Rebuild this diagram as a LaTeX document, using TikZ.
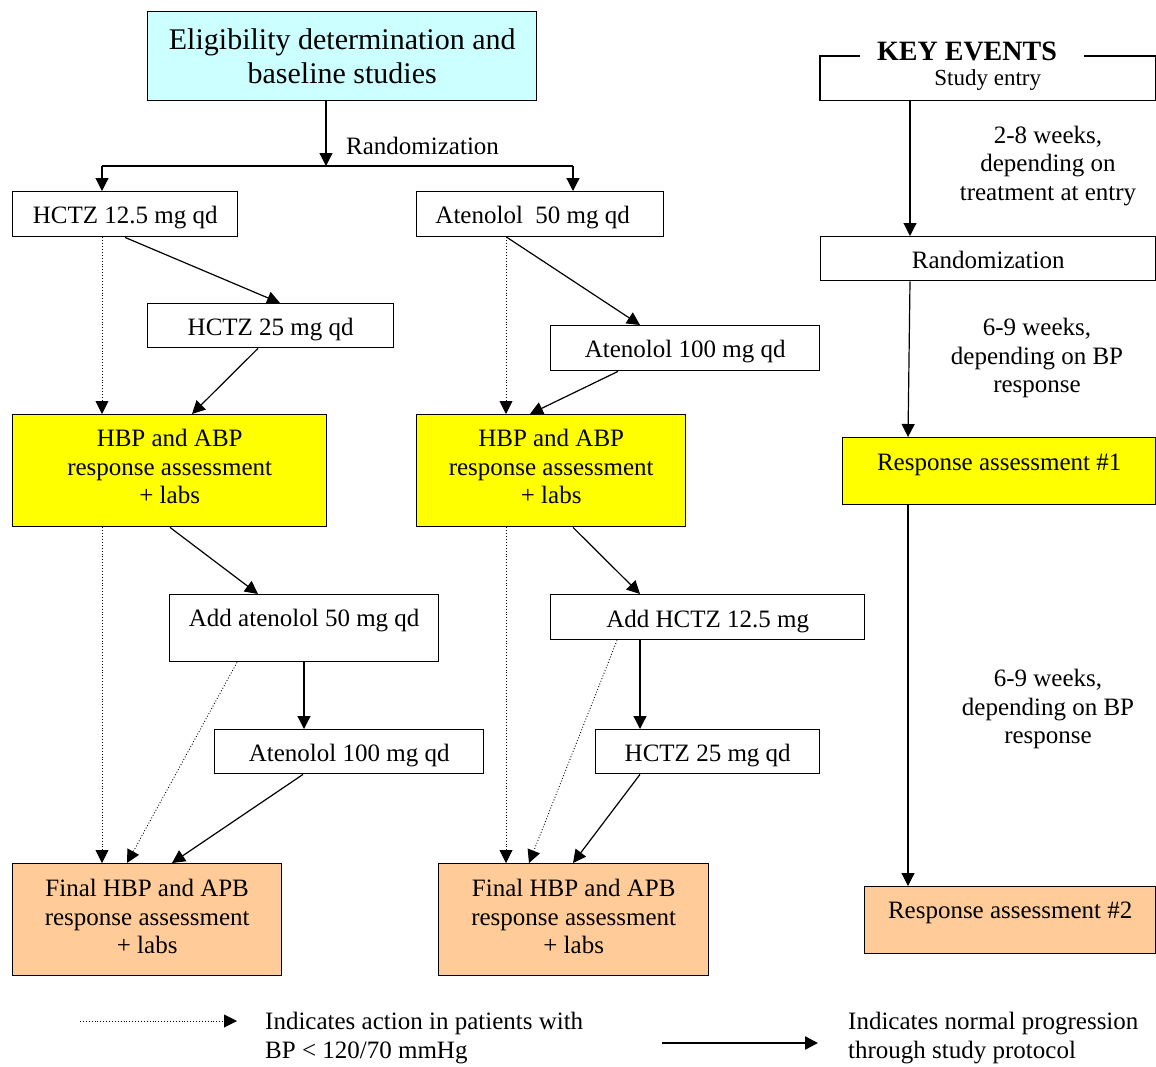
\documentclass[tikz,border=0pt]{standalone}
\usepackage{fontspec}
\setmainfont{Liberation Serif}
\usetikzlibrary{arrows.meta}
\definecolor{cyanbox}{HTML}{CCFFFF}
\definecolor{yelbox}{HTML}{FFFF00}
\definecolor{orgbox}{HTML}{FFCC99}
\newcommand{\fsmain}{\fontsize{25}{28.7}\selectfont}
\newcommand{\fstitle}{\fontsize{30}{34}\selectfont}
\begin{document}
\begin{tikzpicture}[x=1pt,y=-1pt,
  box/.style={draw, line width=1.4pt, inner sep=0pt, anchor=north west, align=center, font=\fsmain},
  plain/.style={inner sep=0pt, align=center, font=\fsmain},
  tip/.style={-{Triangle[length=13pt,width=13pt]}},
  arr/.style={line width=1.2pt, tip},
  dotarr/.style={line width=0.9pt, dotted, tip},
]
\useasboundingbox (0,0) rectangle (1156,1066);

% left / middle flow
\node[box, fill=cyanbox, font=\fstitle, minimum width=389pt, minimum height=89pt] (elig) at (147,11) {Eligibility determination and\\baseline studies};
\node[box, minimum width=225pt, text height=32pt, text depth=13pt] (h1) at (12,191) {HCTZ 12.5 mg qd};
\node[box, minimum width=247pt, text height=32pt, text depth=13pt] (a1) at (416,191) {Atenolol\ \ 50 mg qd\hspace{15pt}};
\node[box, minimum width=246pt, text height=31.5pt, text depth=12.5pt] (h2) at (147,303) {HCTZ 25 mg qd};
\node[box, minimum width=269pt, text height=32pt, text depth=13pt] (a2) at (550,325) {Atenolol 100 mg qd};
\node[box, fill=yelbox, minimum width=314pt, text height=89pt, text depth=23pt] (y1) at (12,414) {HBP and ABP\\response assessment\\+ labs};
\node[box, fill=yelbox, minimum width=269pt, text height=89pt, text depth=23pt] (y2) at (416,414) {HBP and ABP\\response assessment\\+ labs};
\node[box, minimum width=269pt, text height=32pt, text depth=35pt] (add1) at (169,594) {Add atenolol 50 mg qd};
\node[box, minimum width=314pt, text height=33pt, text depth=12pt] (add2) at (550,594) {Add HCTZ 12.5 mg};
\node[box, minimum width=269pt, text height=31.5pt, text depth=12.5pt] (at3) at (214,729) {Atenolol 100 mg qd};
\node[box, minimum width=224pt, text height=31.5pt, text depth=12.5pt] (hc3) at (595,729) {HCTZ 25 mg qd};
\node[box, fill=orgbox, minimum width=269pt, text height=90pt, text depth=22pt] (o1) at (12,863) {Final HBP and APB\\response assessment\\+ labs};
\node[box, fill=orgbox, minimum width=270pt, text height=90pt, text depth=22pt] (o2) at (438,863) {Final HBP and APB\\response assessment\\+ labs};

\node[plain, anchor=west] (randlab) at (346,146) {Randomization};

\coordinate (split) at (326,166);
\coordinate (bl) at (102,166);
\coordinate (br) at (573,166);
\draw[arr] (elig.south -| split) -- (split);
\draw[line width=1.2pt] (bl) -- (br);
\draw[arr] (bl) -- (bl |- h1.north);
\draw[arr] (br) -- (br |- a1.north);

\draw[arr] ([xshift=113pt]h1.south west) -- ([xshift=133pt]h2.north west);
\draw[dotarr] ([xshift=90pt]h1.south west) -- ([xshift=90pt]y1.north west);
\draw[arr] ([xshift=111pt]h2.south west) -- ([xshift=180pt]y1.north west);
\draw[arr] ([xshift=91pt]a1.south west) -- ([xshift=90pt]a2.north west);
\draw[dotarr] ([xshift=90pt]a1.south west) -- ([xshift=90pt]y2.north west);
\draw[arr] ([xshift=68pt]a2.south west) -- ([xshift=114pt]y2.north west);
\draw[arr] ([xshift=158pt]y1.south west) -- ([xshift=89pt]add1.north west);
\draw[arr] ([xshift=157pt]y2.south west) -- ([xshift=90pt]add2.north west);
\draw[arr] ([xshift=135pt]add1.south west) -- ([xshift=90pt]at3.north west);
\draw[arr] ([xshift=90pt]add2.south west) -- ([xshift=45pt]hc3.north west);
\draw[dotarr] ([xshift=90pt]y1.south west) -- ([xshift=90pt]o1.north west);
\draw[dotarr] ([xshift=68pt]add1.south west) -- ([xshift=115pt]o1.north west);
\draw[arr] ([xshift=89pt]at3.south west) -- ([xshift=160pt]o1.north west);
\draw[dotarr] ([xshift=90pt]y2.south west) -- ([xshift=68pt]o2.north west);
\draw[dotarr] ([xshift=67pt]add2.south west) -- ([xshift=91pt]o2.north west);
\draw[arr] ([xshift=45pt]hc3.south west) -- ([xshift=135pt]o2.north west);

% key events column
\node[plain, anchor=north west, minimum width=335pt, text height=29pt, text depth=15pt, font=\fontsize{23}{26}\selectfont] (entry) at (820,56) {Study entry};
\draw[line width=1.4pt] (860,56) -- (entry.north west) -- (entry.south west) -- (entry.south east) -- (entry.north east) -- (1084,56);
\node[plain, font=\fontsize{28}{30}\bfseries\selectfont] (kev) at (967,51) {KEY EVENTS};
\node[box, minimum width=335pt, text height=32pt, text depth=12pt] (rand) at (820,236) {Randomization};
\node[box, fill=yelbox, minimum width=313pt, text height=33pt, text depth=34pt] (r1) at (842,437) {Response assessment \#1};
\node[box, fill=orgbox, minimum width=291pt, text height=32pt, text depth=35pt] (r2) at (864,886) {Response assessment \#2};

\node[plain] (t1) at (1048,166) {2-8 weeks,\\depending on\\treatment at entry};
\node[plain] (t2) at (1037,358) {6-9 weeks,\\depending on BP\\response};
\node[plain] (t3) at (1048,709) {6-9 weeks,\\depending on BP\\response};

\draw[arr] ([xshift=90pt]entry.south west) -- ([xshift=90pt]rand.north west);
\draw[arr] ([xshift=90pt]rand.south west) -- ([xshift=66pt]r1.north west);
\draw[arr] ([xshift=66pt]r1.south west) -- ([xshift=44pt]r2.north west);

% legend
\coordinate (l1s) at (80,1021);
\coordinate (l1e) at (237,1021);
\coordinate (l2s) at (662,1043);
\coordinate (l2e) at (818,1043);
\draw[dotarr] (l1s) -- (l1e);
\draw[line width=2.4pt, -{Triangle[length=13pt,width=13pt]}] (l2s) -- (l2e);
\node[plain, anchor=west, align=left] (lg1) at (265,1038) {Indicates action in patients with\\BP < 120/70 mmHg};
\node[plain, anchor=west, align=left] (lg2) at (848,1038) {Indicates normal progression\\through study protocol};
\end{tikzpicture}
\end{document}
